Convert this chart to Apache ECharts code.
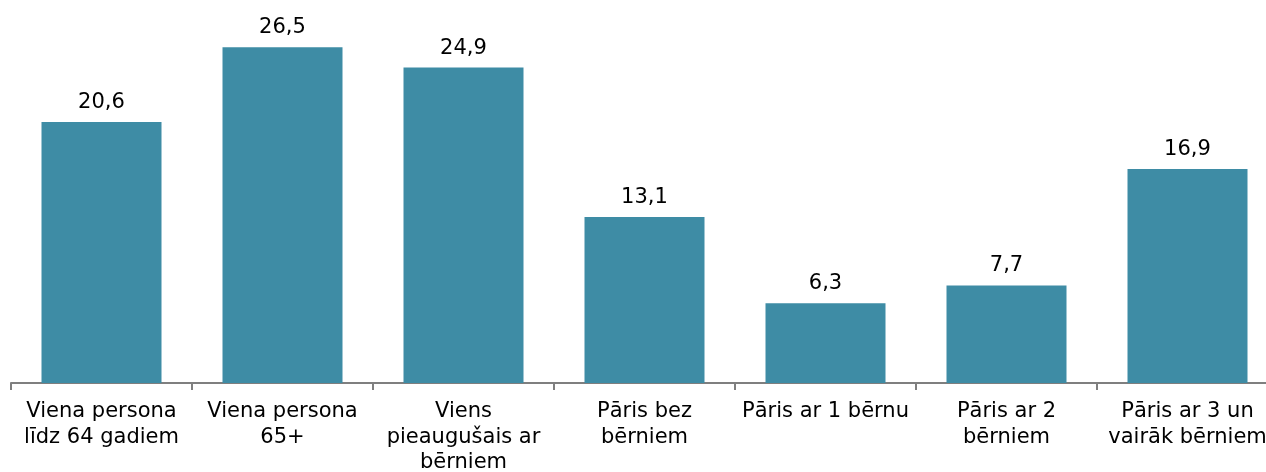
<!DOCTYPE html>
<html>
<head>
<meta charset="utf-8">
<script src="https://cdn.jsdelivr.net/npm/echarts@6/dist/echarts.min.js"></script>
<style>
  html, body { margin: 0; padding: 0; background: #fff; }
  #chart { width: 1266px; height: 472px; }
</style>
</head>
<body>
<div id="chart"></div>
<script>
const categories = [
    'Viena persona\nlīdz 64 gadiem',
    'Viena persona\n65+',
    'Viens\npieaugušais ar\nbērniem',
    'Pāris bez\nbērniem',
    'Pāris ar 1 bērnu',
    'Pāris ar 2\nbērniem',
    'Pāris ar 3 un\nvairāk bērniem'
];
const values = [20.6, 26.5, 24.9, 13.1, 6.3, 7.7, 16.9];

const myChart = echarts.init(document.getElementById('chart'));

const option = {
    animation: false,
    textStyle: { fontFamily: 'DejaVu Sans' },
    grid: { left: 11, top: 3, width: 1267, height: 380, outerBoundsMode: 'none', containLabel: false },
    xAxis: {
        type: 'category',
        data: categories,
        axisLine: { lineStyle: { color: '#7f7f7f', width: 2 } },
        axisTick: { show: true, length: 7, lineStyle: { color: '#7f7f7f', width: 2 } },
        axisLabel: {
            interval: 0,
            margin: 16,
            fontSize: 21,
            lineHeight: 25.5,
            color: '#000'
        }
    },
    yAxis: {
        type: 'value',
        min: 0,
        max: 30,
        show: false,
        splitLine: { show: false }
    },
    series: [{
        type: 'bar',
        data: values,
        barWidth: 120,
        itemStyle: { color: '#3e8ca5' },
        label: {
            show: true,
            position: 'top',
            distance: 9,
            fontSize: 21,
            color: '#000',
            formatter: p => String(p.value).replace('.', ',')
        }
    }]
};

myChart.setOption(option);
</script>
</body>
</html>
